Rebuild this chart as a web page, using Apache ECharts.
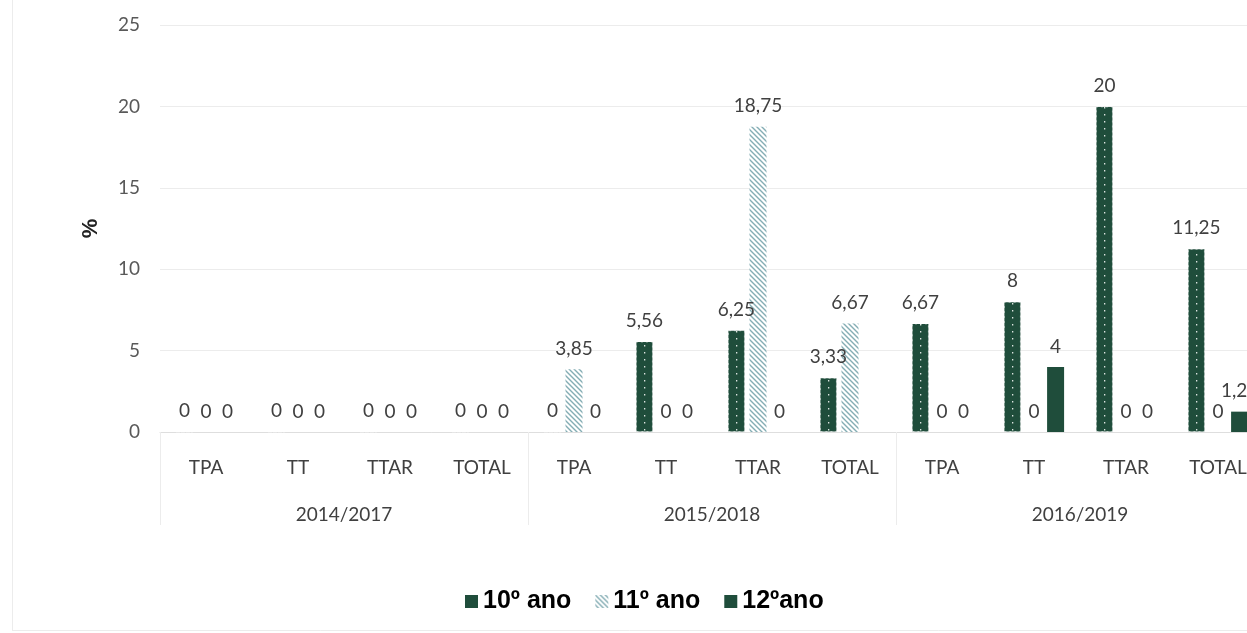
<!DOCTYPE html>
<html>
<head>
<meta charset="utf-8">
<script src="https://cdn.jsdelivr.net/npm/echarts@6/dist/echarts.min.js"></script>
<style>
	html, body { margin: 0; padding: 0; background: #fff; }
	#chart { width: 1247px; height: 633px; }
</style>
</head>
<body>
<div id="chart"></div>
<script>
// categories and values
const categories = ['TPA', 'TT', 'TTAR', 'TOTAL', 'TPA', 'TT', 'TTAR', 'TOTAL', 'TPA', 'TT', 'TTAR', 'TOTAL'];
const groups = ['2014/2017', '2015/2018', '2016/2019'];
const ano10 = [0, 0, 0, 0, 0, 5.56, 6.25, 3.33, 6.67, 8, 20, 11.25];
const ano11 = [0, 0, 0, 0, 3.85, 0, 18.75, 6.67, 0, 0, 0, 0];
const ano12 = [0, 0, 0, 0, 0, 0, 0, null, 0, 4, 0, 1.25];
const yTicks = { min: 0, max: 25, interval: 5 };

const green = '#1f4d3b';
const labelFont = 'Lato, "Open Sans", sans-serif';

// dotted pattern for 10º ano (white dots down the middle of each bar)
const makeDots = () => {
	const c = document.createElement('canvas');
	c.width = 92;
	c.height = 7;
	const ctx = c.getContext('2d');
	ctx.fillStyle = green;
	ctx.fillRect(0, 0, 92, 7);
	ctx.fillStyle = 'rgba(255,255,255,0.85)';
	ctx.fillRect(0, 2, 1.3, 1.5);
	return c;
};
// diagonal hatch for 11º ano
const makeHatch = () => {
	const c = document.createElement('canvas');
	const s = 5;
	c.width = s;
	c.height = s;
	const ctx = c.getContext('2d');
	ctx.fillStyle = '#ffffff';
	ctx.fillRect(0, 0, s, s);
	ctx.strokeStyle = '#84adb4';
	ctx.lineWidth = 1.4;
	ctx.beginPath();
	ctx.moveTo(-1, -1);
	ctx.lineTo(s + 1, s + 1);
	ctx.moveTo(-1, s - 1);
	ctx.lineTo(1, s + 1);
	ctx.moveTo(s - 1, -1);
	ctx.lineTo(s + 1, 1);
	ctx.stroke();
	return c;
};

const fmt = (p) => (p.value === null || p.value === undefined ? '' : String(p.value).replace('.', ','));
const barLabel = {
	show: true,
	position: 'top',
	distance: 11,
	formatter: fmt,
	color: '#404040',
	fontSize: 19,
	fontFamily: labelFont,
};

const chart = echarts.init(document.getElementById('chart'));
const option = {
	animation: false,
	backgroundColor: '#fff',
	// the plot runs past the right edge of the picture, as in the reference
	grid: { left: 160, top: 25, width: 1104, height: 407, outerBoundsMode: 'none' },
	legend: {
		left: 460,
		top: 584,
		icon: 'rect',
		itemWidth: 13,
		itemHeight: 13,
		itemGap: 24,
		textStyle: { fontFamily: '"Liberation Sans", Arial, sans-serif', fontWeight: 'bold', fontSize: 25, color: '#000' },
		data: [
			{ name: '10º ano', itemStyle: { color: green, borderWidth: 0 } },
			'11º ano',
			'12ºano',
		],
	},
	xAxis: [
		{
			type: 'category',
			data: categories,
			axisLine: { lineStyle: { color: '#dedede' } },
			axisTick: { show: false },
			axisLabel: { margin: 26, color: '#404040', fontSize: 19, fontFamily: labelFont },
		},
		{
			type: 'category',
			data: groups,
			position: 'bottom',
			axisLine: { show: false },
			axisTick: { show: true, length: 93, lineStyle: { color: '#ececec' } },
			axisLabel: { margin: 73, color: '#404040', fontSize: 19, fontFamily: labelFont },
		},
	],
	yAxis: {
		type: 'value',
		min: yTicks.min,
		max: yTicks.max,
		interval: yTicks.interval,
		name: '%',
		nameLocation: 'middle',
		nameGap: 58,
		nameTextStyle: { fontFamily: '"Liberation Sans", Arial, sans-serif', fontWeight: 'bold', fontSize: 22, color: '#222' },
		axisLine: { show: false },
		axisTick: { show: false },
		axisLabel: { margin: 20, color: '#595959', fontSize: 19, fontFamily: labelFont },
		splitLine: { lineStyle: { color: '#ececec' } },
	},
	series: [
		{
			name: '10º ano',
			type: 'bar',
			barWidth: 17,
			barGap: '27%',
			data: ano10,
			itemStyle: {
				color: { image: makeDots(), repeat: 'repeat' },
				borderColor: 'rgba(255,255,255,0.5)',
				borderWidth: 1,
				borderType: [2, 3],
			},
			label: barLabel,
		},
		{
			name: '11º ano',
			type: 'bar',
			barWidth: 17,
			barGap: '27%',
			data: ano11,
			itemStyle: { color: { image: makeHatch(), repeat: 'repeat' } },
			label: barLabel,
		},
		{
			name: '12ºano',
			type: 'bar',
			barWidth: 17,
			barGap: '27%',
			data: ano12,
			itemStyle: { color: green },
			label: barLabel,
		},
	],
	graphic: [
		{ type: 'line', shape: { x1: 12.5, y1: 0, x2: 12.5, y2: 630 }, style: { stroke: '#ececec', lineWidth: 1 } },
		{ type: 'line', shape: { x1: 12, y1: 630.5, x2: 1247, y2: 630.5 }, style: { stroke: '#ececec', lineWidth: 1 } },
	],
};
chart.setOption(option);
</script>
</body>
</html>
